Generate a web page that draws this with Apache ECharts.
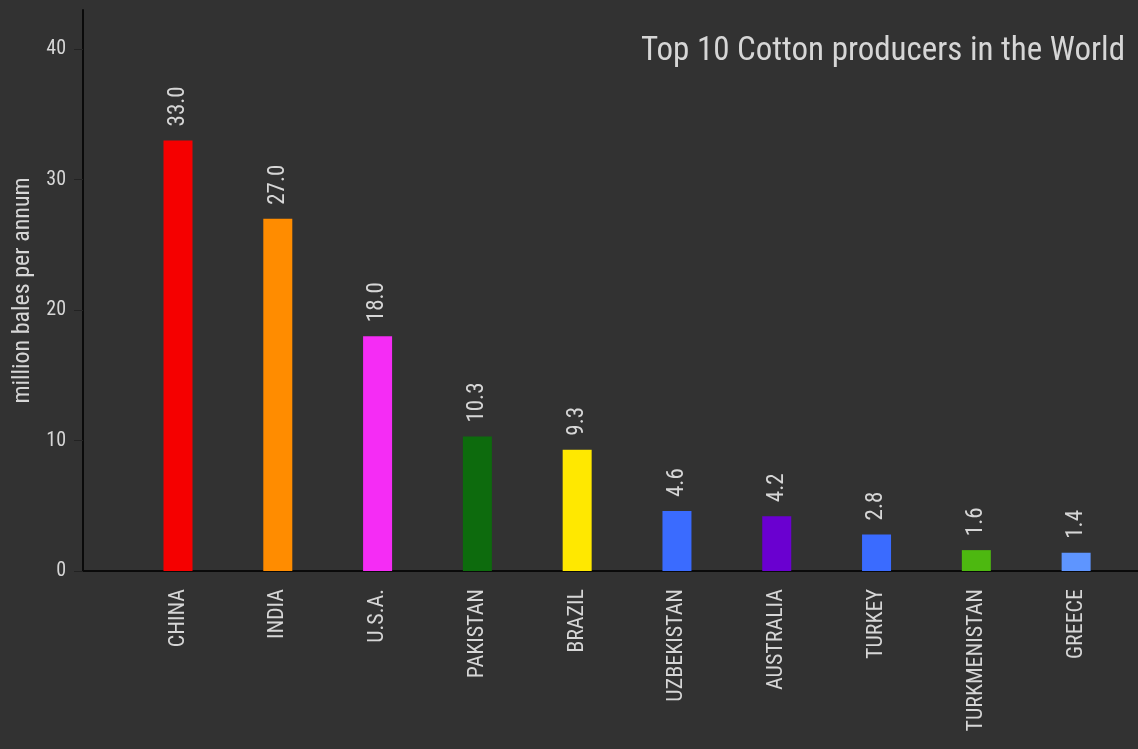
<!DOCTYPE html>
<html>
<head>
<meta charset="utf-8">
<script src="https://cdn.jsdelivr.net/npm/echarts@6/dist/echarts.min.js"></script>
<style>
html,body{margin:0;padding:0;background:#323232;}
#chart{width:1138px;height:749px;}
</style>
</head>
<body>
<div id="chart"></div>
<script>
const categories = ['CHINA','INDIA','U.S.A.','PAKISTAN','BRAZIL','UZBEKISTAN','AUSTRALIA','TURKEY','TURKMENISTAN','GREECE'];
const values = [33.0, 27.0, 18.0, 10.3, 9.3, 4.6, 4.2, 2.8, 1.6, 1.4];
const barColors = ['#f50000','#ff8c00','#f52cf5','#0d6b0d','#ffe800','#3a6bff','#6a00d0','#3a6bff','#4db810','#5e95ff'];
const yTicks = [0, 10, 20, 30, 40];
const titleText = 'Top 10 Cotton producers in the World';
const yName = 'million bales per annum';

const FONT = '"Liberation Sans Narrow", "Roboto Condensed", "Arial Narrow", Roboto, sans-serif';
const TXT = '#d6d6d6';

const chart = echarts.init(document.getElementById('chart'), null, {renderer: 'canvas'});
chart.setOption({
  backgroundColor: '#323232',
  animation: false,
  textStyle: {fontFamily: FONT},
  title: {
    text: titleText, right: 8, top: 30,
    textStyle: {color: TXT, fontSize: 33, fontWeight: 'normal', fontFamily: FONT}
  },
  grid: {left: 83, right: 0, top: 10, bottom: 178},
  xAxis: {
    type: 'value', min: -0.952, max: 9.62,
    splitLine: {show: false},
    axisLine: {show: true, onZero: false, lineStyle: {color: '#0a0a0a', width: 2}},
    axisTick: {show: false},
    axisLabel: {
      customValues: categories.map((c, i) => i),
      formatter: v => categories[Math.round(v)] || '',
      rotate: 90, margin: 18, color: TXT, fontSize: 22, fontFamily: FONT
    }
  },
  yAxis: {
    type: 'value', min: 0, max: 43,
    name: yName, nameLocation: 'middle', nameGap: 46, nameRotate: 90,
    nameTextStyle: {color: TXT, fontSize: 24, fontFamily: FONT},
    splitLine: {show: false},
    axisLine: {show: true, onZero: false, lineStyle: {color: '#0a0a0a', width: 2}},
    axisTick: {show: true, customValues: yTicks, length: 9, lineStyle: {color: '#222'}},
    axisLabel: {customValues: yTicks, margin: 17, color: TXT, fontSize: 20, fontFamily: FONT}
  },
  series: [{
    type: 'bar',
    barWidth: 29,
    data: values.map((v, i) => ({value: [i, v], itemStyle: {color: barColors[i]}})),
    label: {
      show: true, position: 'top', rotate: 90, distance: 14,
      align: 'left', verticalAlign: 'middle',
      color: TXT, fontSize: 23, fontFamily: FONT,
      formatter: p => p.value[1].toFixed(1)
    }
  }]
});
</script>
</body>
</html>
